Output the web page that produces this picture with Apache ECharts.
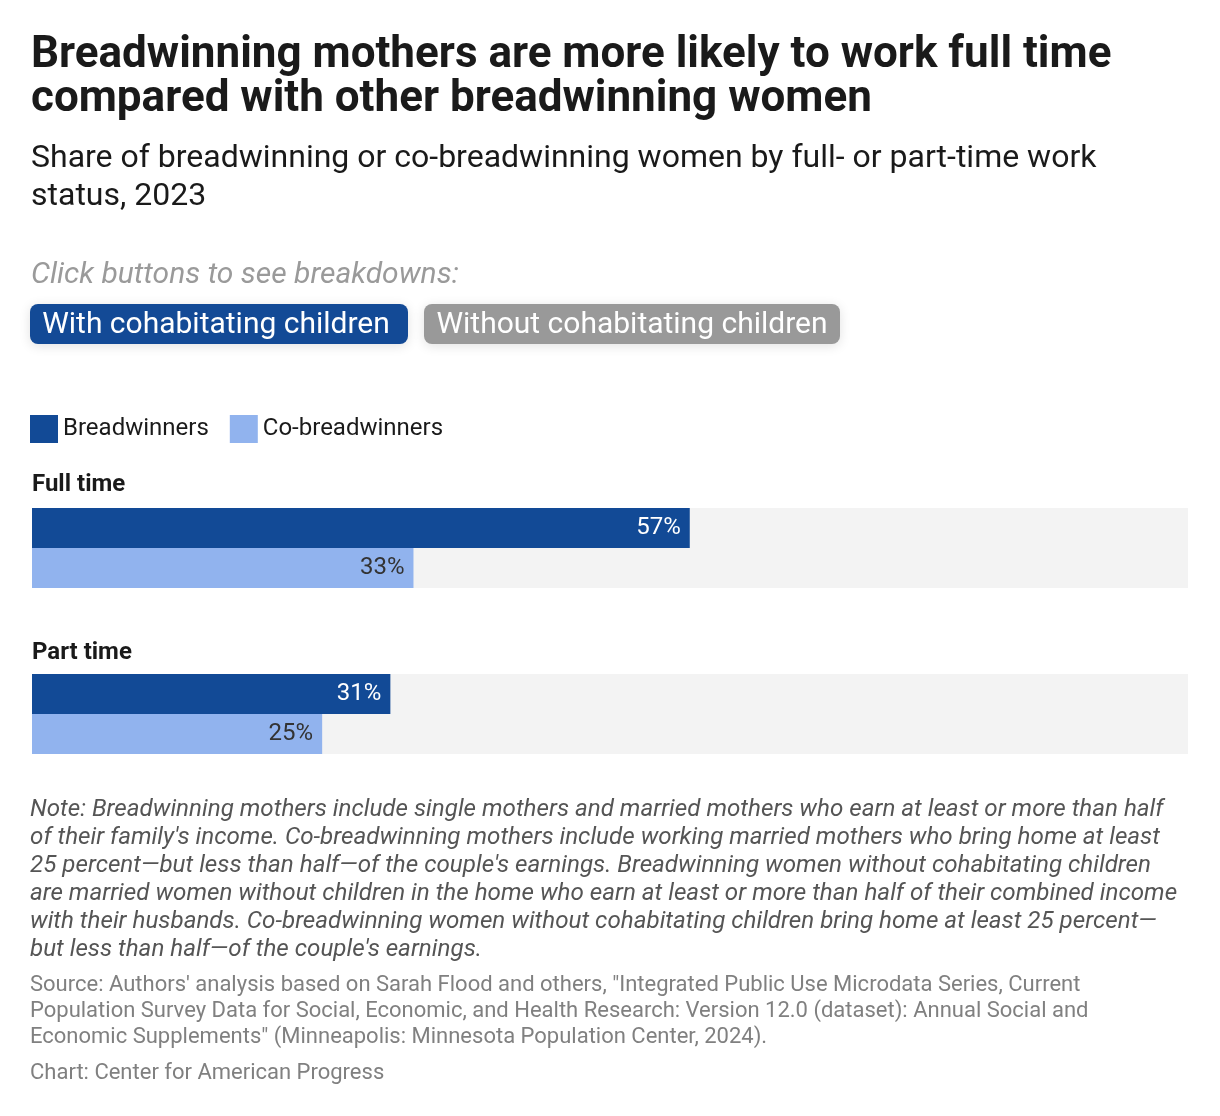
<!DOCTYPE html>
<html>
<head>
<meta charset="utf-8">
<script src="https://cdn.jsdelivr.net/npm/echarts@6/dist/echarts.min.js"></script>
<style>
  html, body { margin: 0; padding: 0; background: #fff; }
  #chart { width: 1220px; height: 1116px; }
</style>
</head>
<body>
<div id="chart"></div>
<script>
// Data
const categories = ['Full time', 'Part time'];
const seriesNames = ['Breadwinners', 'Co-breadwinners'];
const breadwinners = [56.9, 31.0];
const coBreadwinners = [33.0, 25.1];
const axisMax = 100;

const FONT = 'Roboto, "Noto Sans", sans-serif';
const DARK = '#124a96';
const LIGHT = '#91b3ee';

const chart = echarts.init(document.getElementById('chart'), null, { renderer: 'canvas' });

const gridTops = [508, 674];
const grids = gridTops.map(t => ({ left: 32, top: t, width: 1156, height: 80, containLabel: false }));
const xAxes = gridTops.map((t, i) => ({ type: 'value', gridIndex: i, min: 0, max: axisMax, show: false }));
const yAxes = gridTops.map((t, i) => ({ type: 'category', gridIndex: i, data: [categories[i]], inverse: true, show: false }));

const series = [];
categories.forEach((c, i) => {
  [breadwinners, coBreadwinners].forEach((arr, s) => {
    series.push({
      name: seriesNames[s],
      type: 'bar',
      xAxisIndex: i,
      yAxisIndex: i,
      data: [arr[i]],
      barWidth: 40,
      barGap: '0%',
      showBackground: true,
      backgroundStyle: { color: '#f3f3f3' },
      itemStyle: { color: s === 0 ? DARK : LIGHT },
      label: {
        show: true,
        position: 'insideRight',
        distance: 9,
        formatter: p => Math.round(p.value) + '%',
        color: s === 0 ? '#ffffff' : '#333333',
        fontFamily: FONT,
        fontSize: 24
      },
      silent: true,
      animation: false
    });
  });
});

const graphics = [
  { type: 'text', left: 31, top: 34, style: { text: 'Breadwinning mothers are more likely to work full time\ncompared with other breadwinning women', font: 'bold 44px ' + FONT, fill: '#1a1a1a', lineHeight: 44 } },
  { type: 'text', left: 31, top: 140, style: { text: 'Share of breadwinning or co-breadwinning women by full- or part-time work\nstatus, 2023', font: '32px ' + FONT, fill: '#1a1a1a', lineHeight: 38 } },
  { type: 'text', x: 31, y: 275, style: { text: 'Click buttons to see breakdowns:', font: 'italic 30px ' + FONT, fill: '#9a9a9a', verticalAlign: 'middle' } },
  { type: 'rect', shape: { x: 30, y: 304, width: 378, height: 40, r: 8 }, style: { fill: '#134a96', shadowBlur: 12, shadowColor: 'rgba(0,0,0,0.12)', shadowOffsetY: 2 } },
  { type: 'text', x: 216, y: 325, style: { text: 'With cohabitating children', font: '30px ' + FONT, fill: '#ffffff', align: 'center', verticalAlign: 'middle' } },
  { type: 'rect', shape: { x: 424, y: 304, width: 416, height: 40, r: 8 }, style: { fill: '#999999', shadowBlur: 12, shadowColor: 'rgba(0,0,0,0.12)', shadowOffsetY: 2 } },
  { type: 'text', x: 632, y: 325, style: { text: 'Without cohabitating children', font: '30px ' + FONT, fill: '#ffffff', align: 'center', verticalAlign: 'middle' } },
  { type: 'text', x: 32, y: 485, style: { text: categories[0], font: 'bold 24px ' + FONT, fill: '#1a1a1a', verticalAlign: 'middle' } },
  { type: 'text', x: 32, y: 653, style: { text: categories[1], font: 'bold 24px ' + FONT, fill: '#1a1a1a', verticalAlign: 'middle' } },
  { type: 'text', left: 30, top: 796, style: { text: "Note: Breadwinning mothers include single mothers and married mothers who earn at least or more than half\nof their family's income. Co-breadwinning mothers include working married mothers who bring home at least\n25 percent\u2014but less than half\u2014of the couple's earnings. Breadwinning women without cohabitating children\nare married women without children in the home who earn at least or more than half of their combined income\nwith their husbands. Co-breadwinning women without cohabitating children bring home at least 25 percent\u2014\nbut less than half\u2014of the couple's earnings.", font: 'italic 24.2px ' + FONT, fill: '#555555', lineHeight: 28 } },
  { type: 'text', left: 30, top: 972, style: { text: 'Source: Authors\' analysis based on Sarah Flood and others, "Integrated Public Use Microdata Series, Current\nPopulation Survey Data for Social, Economic, and Health Research: Version 12.0 (dataset): Annual Social and\nEconomic Supplements" (Minneapolis: Minnesota Population Center, 2024).', font: '22px ' + FONT, fill: '#808080', lineHeight: 26 } },
  { type: 'text', x: 30, y: 1073, style: { text: 'Chart: Center for American Progress', font: '22px ' + FONT, fill: '#808080', verticalAlign: 'middle' } }
];

chart.setOption({
  animation: false,
  backgroundColor: '#ffffff',
  textStyle: { fontFamily: FONT },
  legend: {
    data: seriesNames,
    left: 30,
    top: 415,
    padding: 0,
    itemWidth: 28,
    itemHeight: 28,
    itemGap: 21,
    icon: 'rect',
    selectedMode: false,
    textStyle: { fontSize: 24, color: '#1a1a1a', fontFamily: FONT }
  },
  grid: grids,
  xAxis: xAxes,
  yAxis: yAxes,
  series: series,
  graphic: graphics
});
</script>
</body>
</html>
